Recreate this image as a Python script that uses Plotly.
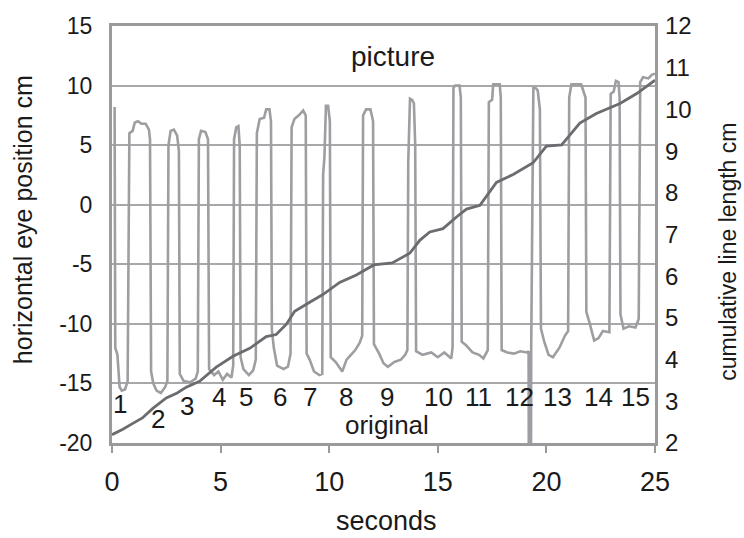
import plotly.graph_objects as go

# Eye position trace (seconds, cm) - left axis
eye_t = [0.12, 0.15, 0.25, 0.35, 0.45, 0.6, 0.72,
         0.8, 0.95, 1.05, 1.2, 1.35, 1.55, 1.7, 1.75,
         1.8, 1.9, 2.05, 2.25, 2.45, 2.55,
         2.6, 2.7, 2.85, 3.0, 3.08,
         3.12, 3.3, 3.6, 3.85, 3.95,
         4.0, 4.1, 4.3, 4.42,
         4.47, 4.7, 4.9, 5.1, 5.3, 5.5, 5.58,
         5.62, 5.72, 5.82, 5.88,
         5.92, 6.05, 6.3, 6.5, 6.62,
         6.67, 6.8, 7.0, 7.1, 7.25, 7.32,
         7.36, 7.45, 7.6, 7.9, 8.1, 8.22,
         8.27, 8.4, 8.6, 8.8, 8.92,
         8.96, 9.1, 9.3, 9.55, 9.68,
         9.72, 9.78, 9.85, 9.95, 10.03,
         10.07, 10.3, 10.6, 10.8, 11.0, 11.2, 11.4, 11.52,
         11.56, 11.7, 11.9, 12.02,
         12.06, 12.3, 12.5, 12.7, 13.0, 13.3, 13.5, 13.6,
         13.64, 13.72, 13.82, 13.9, 13.96,
         14.0, 14.3, 14.7, 15.0, 15.3, 15.62, 15.68,
         15.72, 15.8, 16.0, 16.06,
         16.1, 16.3, 16.6, 16.9, 17.1, 17.3,
         17.35, 17.5, 17.55, 17.85, 17.9,
         17.94, 18.2, 18.5, 18.8, 19.1, 19.18,
         19.19, 19.29, 19.3,
         19.4, 19.5, 19.6, 19.7,
         19.75, 19.9, 20.1, 20.3, 20.6, 20.85, 21.0,
         21.05, 21.15, 21.6, 21.8,
         21.84, 22.0, 22.2, 22.4, 22.6, 22.9,
         22.96, 23.1, 23.2, 23.32, 23.37,
         23.41, 23.55, 23.8, 24.1, 24.25,
         24.32, 24.45, 24.7, 24.85, 25.0]
eye_cm = [8.2, -12.0, -12.6, -15.3, -15.6, -15.5, -14.8,
          6.0, 6.2, 6.9, 7.0, 6.8, 6.8, 6.3, 5.5,
          -14.0, -15.0, -15.6, -15.8, -15.3, -14.8,
          5.0, 6.2, 6.3, 5.8, 4.5,
          -14.2, -14.8, -14.9, -14.6, -14.0,
          5.5, 6.2, 6.1, 5.5,
          -13.8, -14.3, -14.0, -14.7, -14.2, -14.5, -13.5,
          5.5, 6.5, 6.6, 5.0,
          -12.8, -13.8, -14.3, -13.9, -13.0,
          6.0, 7.2, 7.3, 8.0, 8.0, 7.0,
          -10.5, -12.0, -13.5, -13.8, -13.6, -12.5,
          6.5, 7.2, 7.5, 7.9, 7.5,
          -12.5, -13.0, -14.0, -14.3, -14.2,
          2.5, 4.0, 8.3, 8.3, 7.0,
          -12.8, -13.2, -14.0, -13.0, -12.6, -12.2, -11.6, -11.0,
          7.5, 8.0, 8.0, 7.0,
          -11.7, -12.5, -13.3, -13.6, -13.2, -13.0, -12.6, -12.2,
          3.6, 8.9, 8.8, 8.5, 5.0,
          -12.3, -12.6, -12.4, -12.8, -12.4, -12.9, -12.0,
          9.8, 10.0, 10.0, 9.0,
          -11.5, -11.8, -12.4, -12.6, -12.9, -12.2,
          8.6, 8.8, 10.1, 10.1, 9.0,
          -12.2, -12.4, -12.5, -12.3, -12.4, -12.3,
          -22.0, -22.0, -12.0,
          9.8, 9.8, 9.6, 8.0,
          -10.4, -11.5, -12.6, -12.8, -12.0, -11.0, -10.6,
          9.0, 10.1, 10.1, 9.0,
          -9.0, -10.0, -11.4, -11.2, -10.6, -10.7,
          9.3, 9.5, 10.4, 10.3, 9.0,
          -9.2, -10.4, -10.2, -10.3, -9.6,
          10.3, 10.7, 10.6, 10.9, 11.0]

# Cumulative line length (seconds, cm) - right axis
cum_t = [0.0, 0.5, 0.96, 1.4, 1.88, 2.5, 3.0, 3.42, 4.03, 4.65, 4.8, 5.57,
         6.34, 7.1, 7.56, 8.03, 8.41, 9.18, 9.71, 10.48, 11.25, 12.05, 12.9,
         13.71, 14.17, 14.63, 15.24, 15.86, 16.32, 16.94, 17.4, 17.7, 18.47,
         19.39, 20.0, 20.7, 21.54, 22.3, 23.39, 24.16, 25.0]
cum_cm = [2.2, 2.33, 2.47, 2.6, 2.83, 3.08, 3.2, 3.34, 3.48, 3.74, 3.82, 4.08,
          4.27, 4.55, 4.6, 4.85, 5.16, 5.4, 5.56, 5.85, 6.03, 6.27, 6.32,
          6.55, 6.86, 7.06, 7.14, 7.42, 7.61, 7.7, 8.05, 8.25, 8.44,
          8.72, 9.12, 9.15, 9.67, 9.9, 10.14, 10.38, 10.7]

# Fixation number labels
fix_labels = [str(i) for i in range(1, 16)]
fix_t = [0.35, 2.11, 3.45, 4.91, 6.18, 7.72, 9.1, 10.79, 12.68, 15.01,
         16.86, 18.75, 20.5, 22.4, 24.08]
fix_y = [-16.75, -18.0, -16.9, -16.1, -16.1, -16.1, -16.1, -16.1, -16.1,
         -16.1, -16.1, -16.1, -16.1, -16.1, -16.1]

x_ticks = [0, 5, 10, 15, 20, 25]
left_ticks = [15, 10, 5, 0, -5, -10, -15, -20]
right_ticks = [12, 11, 10, 9, 8, 7, 6, 5, 4, 3, 2]

FONT = "Liberation Sans"
TXT = "#1a1a1a"

fig = go.Figure()
fig.add_trace(go.Scatter(x=eye_t, y=eye_cm, mode="lines",
                         line=dict(color="#9d9ea1", width=2.6),
                         showlegend=False, yaxis="y", hoverinfo="skip"))
fig.add_trace(go.Scatter(x=cum_t, y=cum_cm, mode="lines",
                         line=dict(color="#6b6c6f", width=2.8),
                         showlegend=False, yaxis="y2", hoverinfo="skip"))

ann = []
for lab, t, y in zip(fix_labels, fix_t, fix_y):
    ann.append(dict(x=t, y=y, xref="x", yref="y", text=lab, showarrow=False,
                    height=22, valign="middle",
                    font=dict(family=FONT, size=26, color=TXT)))
ann.append(dict(x=12.64, y=-18.45, xref="x", yref="y", text="original",
                showarrow=False,
                font=dict(family=FONT, size=26, color=TXT)))
ann.append(dict(x=12.94, y=12.45, xref="x", yref="y", text="picture",
                showarrow=False, font=dict(family=FONT, size=28, color=TXT)))

W, H = 744, 538
L, R, T, B = 112, 89, 22, 95
pw, ph = W - L - R, H - T - B

def px(xp, yp):
    return (xp - L) / pw, (H - B - yp) / ph

for txt, cx, cy, ang, size in [("horizontal eye position cm", 23, 218, -90, 25),
                                ("cumulative line length cm", 728, 250, -90, 23),
                                ("seconds", 386, 522, 0, 27)]:
    xx, yy = px(cx, cy)
    ann.append(dict(x=xx, y=yy, xref="paper", yref="paper", text=txt,
                    xanchor="center", yanchor="middle",
                    showarrow=False, textangle=ang,
                    font=dict(family=FONT, size=size, color=TXT)))

fig.update_layout(
    width=W, height=H,
    margin=dict(l=L, r=R, t=T, b=B, pad=0),
    paper_bgcolor="white", plot_bgcolor="white",
    font=dict(family=FONT, size=22, color=TXT),
    annotations=ann,
    hovermode=False,
    xaxis=dict(range=[0, 25], tickvals=x_ticks, ticktext=[str(v) for v in x_ticks],
               showgrid=False, zeroline=False,
               showline=True, linecolor="#9a9a9c", linewidth=3, mirror=True,
               ticks="outside", ticklen=7, tickcolor="#9a9a9c", tickwidth=1.5,
               ticklabelstandoff=6,
               tickfont=dict(family=FONT, size=27, color=TXT)),
    yaxis=dict(range=[-20, 15], tickvals=left_ticks, ticktext=[str(v) for v in left_ticks],
               showgrid=True, gridcolor="#a8a8aa", gridwidth=1.5, zeroline=False,
               showline=True, linecolor="#9a9a9c", linewidth=3, mirror=True,
               ticks="", ticklabelstandoff=12,
               tickfont=dict(family=FONT, size=23, color=TXT)),
    yaxis2=dict(range=[2, 12], tickvals=right_ticks, ticktext=[str(v) for v in right_ticks],
                overlaying="y", side="right", showgrid=False, zeroline=False,
                showline=False, ticks="", ticklabelstandoff=9,
                tickfont=dict(family=FONT, size=24, color=TXT)),
)

fig.write_html("out.html",
               config={"displayModeBar": False},
               post_script="document.body.style.margin='0';"
                           "document.body.style.overflow='hidden';")
